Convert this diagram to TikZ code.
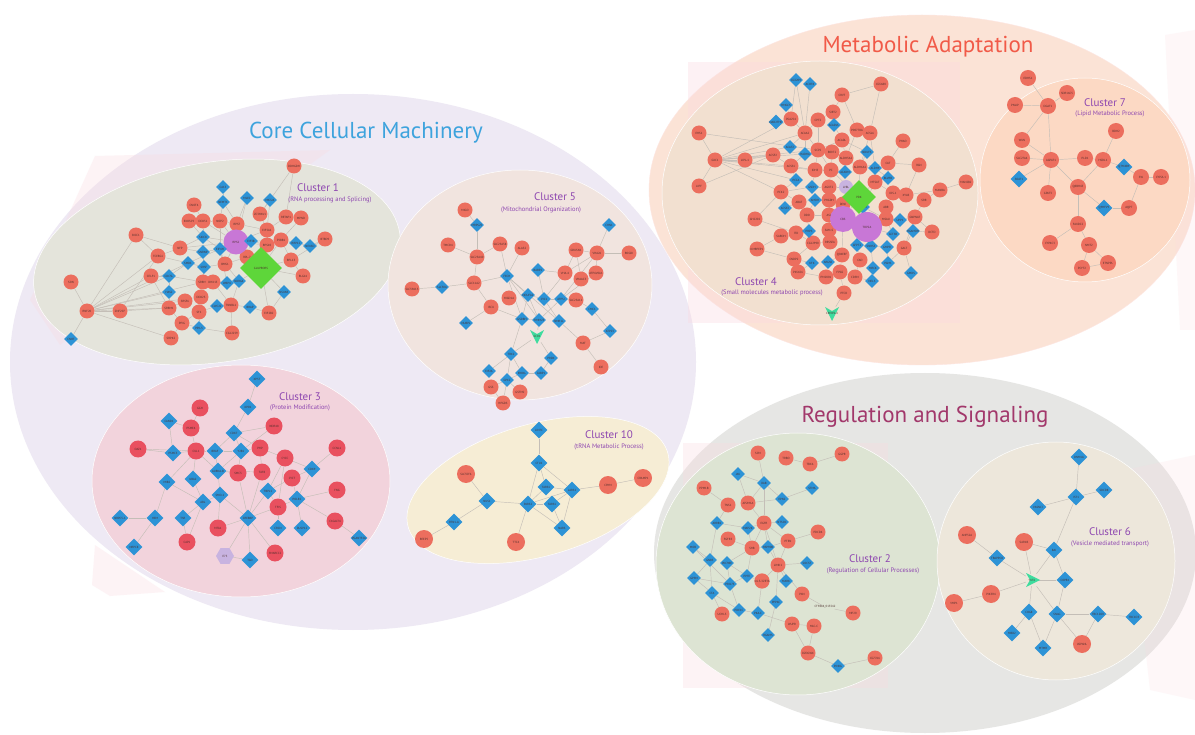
\documentclass[tikz,border=0pt]{standalone}
\usepackage{fontspec}
\setmainfont{PT Sans}
\usetikzlibrary{shapes.geometric}
\definecolor{nred}{HTML}{EC6E5E}
\definecolor{npink}{HTML}{E9505F}
\definecolor{nblue}{HTML}{2D93D6}
\definecolor{ngreen}{HTML}{5ED63A}
\definecolor{npurp}{HTML}{C877D6}
\definecolor{nlav}{HTML}{C8B3E0}
\definecolor{nteal}{HTML}{3EDC9E}
\definecolor{coref}{HTML}{EEE9F4}
\definecolor{metaf}{HTML}{FBE3D6}
\definecolor{regf}{HTML}{E6E6E4}
\definecolor{c1f}{HTML}{E4E4DB}
\definecolor{c5f}{HTML}{F1E4DF}
\definecolor{c3f}{HTML}{F2D3DC}
\definecolor{c10f}{HTML}{F6EDD5}
\definecolor{c4f}{HTML}{F2E0D0}
\definecolor{c7f}{HTML}{FCD9C4}
\definecolor{c2f}{HTML}{DDE4D3}
\definecolor{c6f}{HTML}{EDE7DB}
\definecolor{tblue}{HTML}{3DA3DD}
\definecolor{tred}{HTML}{F15A48}
\definecolor{tmaroon}{HTML}{A2386B}
\definecolor{cpurp}{HTML}{8E47B0}
\definecolor{edgec}{HTML}{C4BEB7}
\definecolor{pinkbg}{HTML}{FBD9E0}
\definecolor{labc}{HTML}{4B2E2B}
\pgfdeclarelayer{back}
\pgfdeclarelayer{edges}
\pgfsetlayers{back,edges,main}
\tikzset{
  nlab/.style={font=\fontsize{3}{3.4}\selectfont, text=labc},
  rc/.style={circle, fill=nred, minimum size=15, inner sep=0, nlab},
  pc/.style={circle, fill=npink, minimum size=17, inner sep=0, nlab},
  bd/.style={diamond, fill=nblue, minimum size=14, inner sep=0, nlab},
  bigd/.style={bd, minimum size=17},
  edge/.style={draw=edgec, line width=0.45},
  ctitle/.style={text=cpurp, font=\fontsize{11}{12}\selectfont},
  csub/.style={text=cpurp, font=\fontsize{6.5}{7.5}\selectfont},
  btitle/.style={font=\fontsize{23}{26}\selectfont},
  region/.style={line width=0.5},
}
\newcommand\rcn[4]{\node[rc] (#1) at (#2,#3) {#4};}
\newcommand\pcn[4]{\node[pc] (#1) at (#2,#3) {#4};}
\newcommand\bdn[4]{\node[bd] (#1) at (#2,#3) {#4};}
\newcommand\bgn[4]{\node[bigd] (#1) at (#2,#3) {#4};}
\newcommand\tarw[5]{\fill[nteal, shift={(#2,#3)}, rotate=#5] (-7,-6) -- (0,-2) -- (7,-6) -- (0,8) -- cycle;
  \node[nlab, inner sep=0, minimum size=12] (#1) at (#2,#3) {#4};}
\newcommand\edgelist[1]{\begin{pgfonlayer}{edges}\foreach \ea/\eb in {#1}{\draw[edge] (\ea) -- (\eb);}\end{pgfonlayer}}
\begin{document}
\begin{tikzpicture}[x=1pt,y=-1pt]
\useasboundingbox (0,0) rectangle (1195,735);
\begin{pgfonlayer}{back}
\fill[white] (0,0) rectangle (1195,735);
% big groups
\fill[coref] (353,362) ellipse [x radius=343, y radius=268];
\fill[metaf, draw=metaf!85!red!40!white] (922,190) ellipse [x radius=273, y radius=175];
\fill[regf] (925,553) ellipse [x radius=271, y radius=180];
% faint pink background sheets
\fill[pinkbg, opacity=0.3] (95,156) -- (330,150) -- (60,345) -- (30,300) -- cycle;
\fill[pinkbg, opacity=0.3] (95,545) -- (165,592) -- (110,596) -- (92,585) -- cycle;
\fill[pinkbg, opacity=0.35] (688,62) rectangle (960,323);
\fill[pinkbg, opacity=0.3] (683,443) rectangle (888,688);
\fill[pinkbg, opacity=0.2] (1125,470) -- (1195,455) -- (1195,700) -- (1150,690) -- cycle;
\fill[pinkbg, opacity=0.2] (1165,35) -- (1195,30) -- (1195,330) -- (1180,330) -- cycle;
% clusters
\fill[c1f, draw=white, region, rotate around={9:(217,262)}] (217,262) ellipse [x radius=185, y radius=100];
\fill[c5f, draw=white, region] (520,285) ellipse [x radius=132, y radius=115];
\fill[c3f, draw=white, region] (241,481) ellipse [x radius=149, y radius=116];
\fill[c10f, draw=white, region, rotate around={16:(538,490)}] (538,490) ellipse [x radius=135, y radius=66];
\fill[c4f, draw=white, region] (820,193) ellipse [x radius=158, y radius=132];
\fill[c7f, draw=white, region] (1085,180) ellipse [x radius=105, y radius=102];
\fill[c2f, draw=white, region] (798,564) ellipse [x radius=142, y radius=131];
\fill[c6f, draw=white, region] (1056,561) ellipse [x radius=119, y radius=119];
\end{pgfonlayer}
% titles
\node[btitle, text=tblue] (tcore) at (366,133) {Core Cellular Machinery};
\node[btitle, text=tred] (tmeta) at (928,47) {Metabolic Adaptation};
\node[btitle, text=tmaroon] (treg) at (925,417) {Regulation and Signaling};
\node[ctitle] (l1) at (318,188) {Cluster 1};
\node[csub] (s1) at (330,200) {(RNA processing and Splicing)};
\node[ctitle] (l5) at (555,197) {Cluster 5};
\node[csub] (s5) at (541,210) {(Mitochondrial Organization)};
\node[ctitle] (l3) at (300,397) {Cluster 3};
\node[csub] (s3) at (300,408) {(Protein Modification)};
\node[ctitle] (l10) at (609,435) {Cluster 10};
\node[csub] (s10) at (609,447) {(tRNA Metabolic Process)};
\node[ctitle] (l4) at (756,282) {Cluster 4};
\node[csub] (s4) at (772,293) {(Small molecules metabolic process)};
\node[ctitle] (l7) at (1105,103) {Cluster 7};
\node[csub] (s7) at (1110,114) {(Lipid Metabolic Process)};
\node[ctitle] (l2) at (870,559) {Cluster 2};
\node[csub] (s2) at (873,571) {(Regulation of Cellular Processes)};
\node[ctitle] (l6) at (1110,532) {Cluster 6};
\node[csub] (s6) at (1110,544) {(Vesicle mediated transport)};

% ================= Cluster 1 =================
\rcn{a1}{294}{166}{DDHGDH}
\rcn{a2}{194}{205}{CNOT4}
\rcn{a3}{189}{221}{EXOSC9}
\rcn{a4}{203}{221}{DDX51}
\rcn{a5}{220}{221}{NOP2}
\rcn{a6}{237}{224}{RPS7}
\rcn{a7}{260}{214}{ZC3HAV1}
\rcn{a8}{286}{217}{RETAP1}
\rcn{a9}{301}{218}{MPND}
\rcn{a10}{267}{230}{EIF5A1}
\rcn{a11}{267}{245}{RPS10}
\rcn{a12}{281}{240}{P3BB1}
\rcn{a13}{325}{239}{BTBD9}
\rcn{a14}{291}{260}{RPL13}
\rcn{a15}{247}{257}{RPL-7}
\rcn{a16}{136}{235}{BICC1}
\rcn{a17}{180}{248}{NFP}
\rcn{a18}{158}{256}{TCERG1}
\rcn{a19}{151}{276}{CELF1}
\rcn{a20}{225}{264}{BMS1}
\rcn{a21}{203}{282}{SRRM2}
\rcn{a22}{213}{282}{DHX15}
\rcn{a23}{201}{297}{DDX23}
\rcn{a24}{185}{301}{SRSF6}
\rcn{a25}{169}{308}{SRRM1}
\rcn{a26}{199}{312}{SF1}
\rcn{a27}{231}{305}{TNNBL1}
\rcn{a28}{182}{323}{PPIG}
\rcn{a29}{171}{338}{SRPK2}
\rcn{a30}{232}{333}{CG12259}
\rcn{a31}{269}{313}{EIF2B2}
\rcn{a32}{303}{276}{RLG14}
\rcn{a33}{71}{282}{SON}
\rcn{a34}{87}{311}{RNF20}
\rcn{a35}{120}{311}{ZNF207}
\node[circle, fill=npurp, minimum size=25, inner sep=0, nlab] (rps2) at (236,242) {RPS2};
\node[diamond, fill=ngreen, minimum size=42, inner sep=0, nlab] (glu) at (261,268) {GLUPRORS};
\bdn{b1}{223}{187}{CA13}
\bdn{b2}{223}{202}{NEMT1}
\bdn{b3}{247}{198}{MLEC}
\bdn{b4}{270}{200}{MAT2A}
\bdn{b5}{203}{237}{SKIC8}
\bdn{b6}{251}{241}{EIF3B}
\bdn{b7}{220}{249}{EIF4H}
\bdn{b8}{203}{252}{SNRNP}
\bdn{b9}{188}{263}{SMD1}
\bdn{b10}{204}{267}{SRSF}
\bdn{b11}{296}{243}{RRP12}
\bdn{b12}{310}{246}{NEXSD}
\bdn{b13}{169}{276}{CDC5L}
\bdn{b14}{169}{292}{HAS2}
\bdn{b15}{227}{283}{WBP4}
\bdn{b16}{239}{281}{NDRG4}
\bdn{b17}{217}{306}{CWC22}
\bdn{b18}{250}{307}{BRAP}
\bdn{b19}{199}{328}{PPIL3}
\bdn{b20}{284}{292}{NSUN5}
\bdn{b21}{71}{339}{CNOT}
\edgelist{a33/a34,a34/b21,a34/a35,a34/a16,a34/a18,a34/a19,a34/b13,a34/b14,a34/a25,a34/a24,a34/a29,a34/a23,a34/a21,a34/b9,
a16/a18,a16/a17,a18/a17,a18/b9,a19/b13,a19/a25,a17/b8,a17/b5,a17/rps2,a2/a4,a3/a4,a3/b5,a4/a5,a4/rps2,a4/b5,a5/a6,a5/rps2,a5/b7,
a6/rps2,a6/b2,a6/a10,b1/b2,b2/a5,b3/a6,b3/rps2,b4/a7,b4/a10,a7/a10,a8/a9,a8/a10,a10/a11,a11/rps2,a12/a11,a12/b11,a9/a12,
b11/b12,b12/a13,a13/a14,a1/a8,a1/a7,rps2/b6,rps2/b7,rps2/a15,rps2/a20,rps2/b5,rps2/a10,rps2/a12,rps2/b9,b6/a11,b6/a15,
a15/glu,a15/a20,glu/a14,glu/a32,glu/b16,glu/b20,glu/a31,glu/a11,glu/a12,a14/a12,a32/a14,b15/a21,b15/b16,b7/b15,
a22/a21,a22/b15,a22/a27,a23/a24,a23/a26,a24/a25,a25/b14,b14/b13,b13/b9,b13/a21,b9/b10,b10/b8,b8/b7,b8/a21,b7/a20,
a20/b10,a20/b16,a26/b17,b17/a27,a27/b18,b18/a31,a26/b19,b19/a28,a28/a29,a28/a25,b19/a30,a30/a27,a26/a28,a21/b10,
b10/a23,b16/a27,b20/a31,a35/a25,a35/a18,b5/b7}

% ================= Cluster 5 =================
\rcn{f1}{465}{210}{MIGO}
\rcn{f2}{448}{245}{TMCO4}
\rcn{f3}{500}{244}{SLC25A38}
\rcn{f4}{522}{248}{ALAS2}
\rcn{f5}{477}{257}{SLC25A40}
\rcn{f6}{576}{250}{GRUSN1}
\rcn{f7}{597}{253}{VHA26}
\rcn{f8}{629}{253}{ROGDI}
\rcn{f9}{565}{273}{VHA-4}
\rcn{f10}{596}{273}{ATP6V0A1}
\rcn{f11}{581}{279}{VHAAC3}
\rcn{f12}{412}{289}{SLC39A13}
\rcn{f13}{474}{283}{SLC11A2}
\rcn{f14}{509}{298}{HIGD1A}
\rcn{f15}{576}{300}{SLC25A11}
\rcn{f16}{491}{307}{ISCU}
\rcn{f17}{583}{343}{MAT}
\rcn{f18}{601}{367}{IDE}
\rcn{f19}{491}{387}{GSS}
\rcn{f20}{520}{392}{GSTM2}
\rcn{f21}{503}{403}{HPGDS}
\bdn{g1}{477}{225}{MRPS25}
\bdn{g2}{609}{225}{CHN1}
\bdn{g3}{507}{276}{FECH}
\bdn{g4}{538}{270}{BABP2}
\bdn{g5}{442}{287}{SLC30A}
\bdn{g6}{528}{295}{NDUFA2}
\bdn{g7}{544}{299}{CYC1}
\bdn{g8}{561}{299}{ATP5J}
\bdn{g9}{592}{309}{CMC1}
\bdn{g10}{466}{323}{NUBPL}
\bdn{g11}{522}{319}{GSDBH}
\bdn{g12}{539}{320}{TIMM23}
\bdn{g13}{559}{321}{NMR1L}
\bdn{g14}{610}{331}{ATP23}
\bdn{g15}{511}{354}{TRX2}
\bdn{g16}{551}{358}{PRDX}
\bdn{g17}{489}{371}{EIF2A}
\bdn{g18}{507}{380}{GPX2}
\bdn{g19}{522}{373}{ERO1L}
\bdn{g20}{541}{373}{CABP1}
\tarw{sco}{537}{336}{SCO1}{0}
\edgelist{f1/g1,g1/f5,f2/f5,f5/f3,f5/f13,f3/g3,f4/g3,g5/f12,g5/f13,f13/g3,f13/f16,g3/g6,g3/g11,g3/g12,g3/g13,g4/g7,
f16/g10,f16/g11,g6/g7,g7/g8,g8/f15,g7/f9,g8/f10,f9/f6,f9/f7,f6/f7,f7/f8,f6/f11,f10/f7,g8/f7,g2/f7,g9/f15,g9/g14,
g14/f17,f17/f18,f17/g13,g13/g7,g11/g12,g12/sco,g11/g15,sco/g15,sco/g16,g15/g17,g15/g19,g16/g20,g19/g20,g18/g19,
g18/f19,g18/f20,g18/f21,f19/f21,g15/g18,g11/g6,g6/g12,g12/g8,f9/g4}

% ================= Cluster 3 =================
\pcn{h1}{200}{408}{GGH}
\pcn{h2}{191}{428}{PSME4}
\pcn{h3}{138}{449}{OAZ1}
\pcn{h4}{196}{451}{CUL1}
\pcn{h5}{274}{426}{WDR48}
\pcn{h6}{260}{448}{PHP}
\pcn{h7}{285}{458}{CYCC}
\pcn{h8}{337}{448}{CCNL1}
\pcn{h9}{238}{473}{SMC3}
\pcn{h10}{262}{472}{TAF8}
\pcn{h11}{292}{478}{CYCT}
\pcn{h12}{337}{490}{FNG}
\pcn{h13}{278}{507}{TFIS}
\pcn{h14}{335}{521}{C1GALT4}
\pcn{h15}{218}{528}{MTA1}
\pcn{h16}{187}{542}{CAP1}
\pcn{h17}{275}{553}{SMARCC2}
\node[regular polygon, regular polygon sides=6, fill=nlav, minimum size=18, inner sep=0, nlab] (e75) at (225,556) {E75};
\bgn{i1}{257}{379}{XP5T}
\bgn{i2}{248}{407}{XPO1}
\bgn{i3}{169}{421}{CAND1}
\bgn{i4}{234}{433}{CDK7}
\bgn{i5}{173}{453}{PSMC5}
\bgn{i6}{215}{451}{BRAF}
\bgn{i7}{241}{451}{Y2B1}
\bgn{i8}{218}{471}{AURKA-B}
\bgn{i9}{312}{469}{CDK9}
\bgn{i10}{167}{482}{MIB2}
\bgn{i11}{193}{479}{UBA2}
\bgn{i12}{220}{495}{SMO-1}
\bgn{i13}{268}{491}{TBPL1}
\bgn{i14}{297}{499}{POLR2}
\bgn{i15}{203}{502}{ABL}
\bgn{i16}{155}{518}{HEM}
\bgn{i17}{183}{518}{TSR}
\bgn{i18}{248}{518}{CREBBP}
\bgn{i19}{278}{528}{CRCN}
\bgn{i20}{302}{528}{DUSP12}
\bgn{i21}{120}{518}{NRPC5-1}
\bgn{i22}{134}{547}{NRPC8}
\bgn{i23}{250}{560}{TGO}
\bgn{i24}{359}{538}{PGANT35A}
\edgelist{i1/i2,i2/i4,i4/h6,i4/i6,i4/i7,i4/h5,i3/h2,i3/i5,h1/h2,h2/h4,h3/i5,i5/h4,h4/i6,h4/i11,h4/i10,h4/i8,i6/i8,i6/i7,
i7/h6,i7/i8,h6/h10,h6/h7,h5/i7,h7/i13,h7/h13,h11/i14,h11/i13,i9/h8,i9/i14,i9/h7,i9/h11,h12/i14,i14/h13,i14/i20,i14/h14,
h14/i24,i13/h13,i13/i18,h13/i19,h13/i18,i8/h9,i8/i12,i12/i15,i12/h15,i12/i18,i11/i15,i10/i15,i15/i17,i15/h16,i17/h16,
i16/i21,i16/i22,i16/i10,i18/h17,i18/e75,i18/i23,i18/h15,h9/i18,h10/i18,i8/h10,h3/h4,i23/e75,i7/h9}

% ================= Cluster 10 =================
\node[rc, minimum size=18] (j1) at (466,474) {SLC35F6};
\node[rc, minimum size=18] (j2) at (608,485) {CRYM};
\node[rc, minimum size=18] (j3) at (643,478) {CRAMP1};
\node[rc, minimum size=18] (j4) at (424,539) {REEP5};
\node[rc, minimum size=18] (j5) at (516,542) {TTC4};
\bgn{k1}{539}{430}{LIN7C}
\bgn{k2}{539}{463}{CTU1}
\bgn{k3}{546}{487}{TARS1}
\bgn{k4}{572}{490}{LARS1}
\bgn{k5}{487}{501}{NUS1}
\bgn{k6}{528}{504}{PARS2}
\bgn{k7}{552}{504}{TARS1}
\bgn{k8}{454}{522}{RTN1-A}
\bgn{k9}{562}{528}{NARS}
\edgelist{k1/k2,k2/k3,k2/k6,k2/k4,k3/k4,k3/k6,k4/k7,k4/k9,k4/j2,j2/j3,k6/k7,k6/k9,k6/k5,k6/k4,k6/j5,k5/j1,k5/k8,k8/j4,k7/k9}

% ================= Cluster 4 =================
\rcn{m1}{699}{133}{EHS1}
\rcn{m2}{715}{160}{GXC1}
\rcn{m3}{745}{160}{LIPL-1}
\rcn{m4}{773}{155}{ACSF2}
\rcn{m5}{791}{166}{ACSS1}
\rcn{m6}{791}{119}{PG4254}
\rcn{m7}{805}{133}{ACAA2}
\rcn{m8}{818}{120}{CPT2}
\rcn{m9}{818}{150}{SCP2}
\rcn{m10}{842}{95}{CRVT}
\rcn{m11}{833}{112}{SIRT2}
\rcn{m12}{881}{84}{CG5680}
\rcn{m13}{857}{130}{P00778A}
\rcn{m14}{870}{133}{ACSL6}
\rcn{m15}{842}{140}{ACADL}
\rcn{m16}{903}{141}{PHAO}
\rcn{m17}{832}{152}{B0072}
\rcn{m18}{846}{158}{ALDH3A2}
\rcn{m19}{815}{170}{IDH3}
\rcn{m20}{831}{170}{PC}
\rcn{m21}{860}{167}{ALDH6A1}
\rcn{m22}{888}{163}{CAT}
\rcn{m23}{919}{165}{RGN}
\rcn{m24}{699}{186}{LIPF}
\rcn{m25}{781}{192}{PCK2}
\rcn{m26}{829}{187}{AGXT2}
\rcn{m27}{875}{182}{MTSAT}
\rcn{m28}{893}{193}{IDS-1}
\rcn{m29}{906}{195}{XYLB}
\rcn{m30}{940}{190}{MANBA}
\rcn{m31}{966}{182}{MAN2B2}
\rcn{m32}{799}{202}{ABAT}
\rcn{m33}{829}{200}{PHGDH}
\rcn{m57}{843}{204}{DENI}
\rcn{m34}{886}{207}{ABR}
\rcn{m35}{924}{200}{SRR}
\rcn{m36}{807}{215}{DDO}
\rcn{m37}{829}{215}{ASL}
\rcn{m38}{886}{219}{MSAU}
\rcn{m39}{915}{217}{GNPNAT}
\rcn{m40}{755}{219}{GH2202}
\rcn{m41}{796}{233}{ITD}
\rcn{m42}{829}{230}{SAM-S}
\rcn{m43}{932}{232}{DCTD}
\rcn{m44}{781}{236}{SARDH}
\rcn{m45}{813}{243}{CG12990}
\rcn{m46}{830}{242}{RESSEA}
\rcn{m47}{842}{255}{Q04EEF}
\rcn{m48}{904}{248}{GALT}
\rcn{m49}{757}{249}{KMRPEP1}
\rcn{m50}{794}{259}{CNDP2}
\rcn{m51}{798}{272}{P65656}
\rcn{m52}{826}{277}{PM2001}
\rcn{m53}{840}{272}{FPGS}
\rcn{m54}{855}{277}{CDSM}
\rcn{m55}{844}{293}{PTCD}
\rcn{m56}{860}{260}{CAD}
\bdn{n1}{796}{80}{CG3209}
\bdn{n2}{810}{84}{ACOT8}
\bdn{n3}{786}{105}{HMGCS}
\bdn{n4}{776}{122}{NAD2THE}
\bdn{n5}{834}{125}{ACADVL}
\bdn{n6}{790}{147}{ACAT2}
\bdn{n7}{805}{154}{HADHA}
\bdn{n8}{867}{152}{NDUFS}
\bdn{n9}{845}{172}{ACADM}
\bdn{n10}{875}{168}{ALDH9}
\bdn{n11}{796}{180}{PCCA}
\bdn{n12}{812}{187}{GSDH}
\bdn{n13}{888}{178}{BLVRB}
\bdn{n14}{815}{200}{AMDH}
\bdn{n15}{785}{208}{ACSS3}
\bdn{n16}{863}{207}{MIT-TR}
\bdn{n17}{900}{220}{UPP1}
\bdn{n18}{809}{231}{PRPS}
\bdn{n19}{893}{234}{GCTSB}
\bdn{n20}{913}{231}{HGAMDH}
\bdn{n21}{857}{245}{GFPT2}
\bdn{n22}{871}{246}{SNRS3}
\bdn{n23}{887}{247}{GMPR}
\bdn{n25}{812}{263}{KFK}
\bdn{n26}{828}{262}{ARGS0}
\bdn{n27}{888}{263}{PGM1}
\bdn{n28}{911}{273}{GMDS}
\bdn{n29}{873}{268}{MRCK}
\bdn{n30}{872}{281}{NEL3}
\node[circle, fill=nlav, minimum size=14, inner sep=0, nlab] (lvbl) at (846,187) {LVBL};
\node[diamond, fill=ngreen, minimum size=34, inner sep=0, nlab] (pdk) at (859,197) {PDK};
\node[circle, fill=npurp, minimum size=26, inner sep=0, nlab] (cbs) at (843,219) {CBS};
\node[circle, fill=npurp, minimum size=30, inner sep=0, nlab] (top2a) at (867,227) {TOP2A};
\tarw{creb}{832}{313}{CREB3L4}{0}
\edgelist{m2/m1,m2/m24,m2/m3,m2/m4,m2/m7,m2/n6,m2/m5,m2/m9,m2/n7,m2/n11,m2/m19,m2/m25,m2/m6,
n1/m7,n2/m7,n1/m6,n3/m6,n4/m6,m6/m7,m7/m8,m8/m11,m11/m10,m10/m13,m12/m10,m12/m14,m13/m14,m11/n5,n5/m15,m7/n6,m7/n7,
m7/m9,m8/m9,m9/m17,m9/m19,m17/m18,m15/m17,m15/m18,m18/m21,m21/m22,m22/m16,m22/m23,m22/n13,m23/m29,m13/m18,m14/m21,
n8/m21,n8/m15,m5/n7,m5/m19,m5/n11,m4/m5,m3/m4,n11/m25,n12/m26,m26/m33,m26/lvbl,lvbl/pdk,pdk/m27,pdk/n16,pdk/cbs,
pdk/m21,pdk/m20,m27/m28,m28/m29,m29/m30,m30/m31,m30/m35,m28/m34,m34/m38,m38/n17,n17/m39,m39/m43,m35/m39,n20/m43,
n20/m48,m38/n19,top2a/n19,top2a/n21,top2a/n22,top2a/m38,cbs/m37,cbs/m42,cbs/m47,m33/m37,m36/n14,n14/m32,m32/n15,
m25/m32,m37/m42,m42/m46,m46/m45,m45/m41,m41/m44,m41/n18,n18/m36,m40/m41,m44/m49,m45/m50,m50/n25,n25/m51,n26/m52,
n26/m47,m47/m53,m53/m55,m55/creb,m52/m53,m53/m54,m54/m56,m56/n21,n22/n23,n23/n27,n27/m48,n28/m48,n29/n30,n29/n22,
n30/m54,m19/m20,m20/m26,m20/m17,n9/m20,n9/m18,n10/n13,n10/m21,n12/m25,m36/m37,n16/m38,n16/m27,m57/m33,m57/cbs,
m9/m20,m19/n12,m33/n14,m32/m36,m17/m21,m14/n10,m15/m9,m40/m25,m49/m50,m51/m52,n21/n22,m48/m39,m24/m4,m1/m9}

% ================= Cluster 7 =================
\node[rc, minimum size=16] (p0) at (1028,78) {EDHS1};
\node[rc, minimum size=16] (p1) at (1067,93) {SDR16C5};
\node[rc, minimum size=16] (p2) at (1048,106) {DGAT1};
\node[rc, minimum size=16] (p3) at (1015,105) {PNLIP};
\node[rc, minimum size=16] (p4) at (1022,140) {WUN};
\node[rc, minimum size=16] (p5) at (1022,158) {SLC27A4};
\node[rc, minimum size=16] (p6) at (1051,160) {AGPAT1};
\node[rc, minimum size=16] (p7) at (1085,158) {PLD1};
\node[rc, minimum size=16] (p8) at (1103,160) {HSDL1};
\node[rc, minimum size=16] (p9) at (1116,131) {BDH2};
\node[rc, minimum size=16] (p10) at (1141,177) {SW};
\node[rc, minimum size=16] (p11) at (1161,177) {CYP2L1};
\node[rc, minimum size=16] (p12) at (1048,193) {GPAT3};
\node[rc, minimum size=16] (p13) at (1078,187) {Q8BH43};
\node[rc, minimum size=16] (p14) at (1129,208) {AQP7};
\node[rc, minimum size=16] (p15) at (1078,224) {FAXDC2};
\node[rc, minimum size=16] (p16) at (1050,243) {CYP4C3};
\node[rc, minimum size=16] (p17) at (1089,245) {NMT2};
\node[rc, minimum size=16] (p18) at (1082,268) {PCYT2};
\node[rc, minimum size=16] (p19) at (1108,263) {ETNPPL};
\bgn{q1}{1019}{179}{SOAT1}
\bgn{q2}{1124}{167}{Q7M4B9}
\bgn{q3}{1104}{208}{Q9HFV9}
\edgelist{p0/p2,p1/p2,p3/p2,p2/p4,p2/p6,p4/p6,p5/p6,q1/p6,p6/p7,p6/p12,p6/p13,p7/p8,p8/p9,p8/q2,q2/p10,p10/p11,p10/p14,
p8/p13,p13/q3,q3/p14,p13/p15,p15/p16,p15/p17,p17/p18,p17/p19,p18/p19}

% ================= Cluster 2 =================
\rcn{r1}{758}{453}{SCM}
\rcn{r2}{786}{458}{TRBO}
\rcn{r3}{810}{464}{TBX6}
\rcn{r4}{842}{454}{GGPR}
\rcn{r5}{704}{488}{PPM1B}
\rcn{r6}{728}{505}{TNS1}
\rcn{r7}{748}{503}{AP2M1A}
\rcn{r8}{764}{523}{EGFR}
\rcn{r9}{818}{532}{PDCD4}
\rcn{r10}{728}{539}{FGFR3}
\rcn{r11}{752}{548}{SHB}
\rcn{r12}{788}{541}{PTEN}
\rcn{r13}{778}{565}{LIMK1}
\rcn{r14}{762}{581}{14-3-3ZETA}
\rcn{r15}{802}{594}{PXN}
\rcn{r16}{722}{614}{UCHL3}
\rcn{r17}{792}{624}{WUPR}
\rcn{r18}{814}{626}{MLC-C}
\rcn{r19}{853}{613}{MP20}
\rcn{r20}{808}{653}{DZOGWX}
\rcn{r21}{875}{658}{CG7766}
\bdn{t1x}{738}{474}{JAK}
\bdn{t2x}{764}{483}{DAB}
\bdn{t3x}{782}{499}{EPN2}
\bdn{t4x}{812}{488}{STMA}
\bdn{t5x}{717}{523}{ARRB1}
\bdn{t6x}{748}{528}{MAP2K}
\bdn{t7x}{782}{522}{NTSOC}
\bdn{t8x}{693}{547}{MOB}
\bdn{t9x}{768}{547}{HSP90B}
\bdn{t10x}{710}{560}{GNB5}
\bdn{t11x}{727}{563}{PKC98E}
\bdn{t12x}{807}{563}{SOCS7}
\bdn{t13x}{694}{578}{GPSM}
\bdn{t14x}{747}{576}{PPTE}
\bdn{t15x}{786}{581}{MARK}
\bdn{t16x}{712}{593}{CTA}
\bdn{t17x}{730}{584}{PRI175}
\bdn{t18x}{776}{602}{PPP6C}
\bdn{t19x}{739}{610}{PDE1C}
\bdn{t20x}{758}{613}{PKA-C}
\bdn{t21x}{768}{635}{RGAMS}
\bdn{t22x}{838}{666}{PINKG}
\node[nlab, inner sep=0.5] (ct98) at (825,607) {CT9884\_013542};
\edgelist{r1/t2x,r2/r3,r3/r4,t1x/t2x,t1x/r7,t2x/r7,t2x/t3x,t2x/r8,t3x/t4x,t3x/r7,r5/r6,r6/t5x,t5x/t10x,r7/r8,r8/t6x,
r8/t7x,r8/r11,r8/t9x,r8/r12,r8/r13,r12/r9,r12/r13,r10/r11,r11/t9x,r11/t11x,r11/t14x,t9x/r13,t9x/r12,r13/t15x,r13/t12x,
r13/r14,r13/r15,t8x/t10x,t8x/t17x,t10x/t16x,t10x/t13x,t11x/t17x,t13x/t17x,t13x/t16x,t16x/r16,t16x/t19x,t17x/t19x,
t14x/r14,t14x/t17x,r14/t20x,t19x/t20x,t20x/r17,t18x/t21x,t18x/r13,r17/r18,r18/r20,r20/t22x,t22x/r21,r17/r20,t14x/t11x,
r15/ct98,ct98/r19,t5x/t6x,t6x/r11}

% ================= Cluster 6 =================
\node[rc, minimum size=18] (v1) at (967,535) {ANP32A};
\node[rc, minimum size=18] (v2) at (1024,542) {SAR1B};
\node[rc, minimum size=18] (v3) at (991,594) {PIK3R4};
\node[rc, minimum size=18] (v4) at (954,603) {VMP1};
\node[rc, minimum size=18] (v5) at (1082,644) {USP6NL};
\bgn{w1}{1079}{457}{DNM1A}
\bgn{w2}{1076}{497}{IST1}
\bgn{w3}{1104}{490}{SDCD8}
\bgn{w4}{1038}{507}{VASNCI}
\bgn{w5}{1054}{550}{BAI}
\bgn{w6}{997}{558}{TRAPPC8}
\bgn{w7}{1065}{580}{COPB1}
\bgn{w8}{1029}{612}{COG8}
\bgn{w9}{1057}{614}{SNAG}
\bgn{w10}{1098}{614}{TBC1D20}
\bgn{w11}{1134}{617}{TBC1D3}
\bgn{w12}{1012}{633}{MBD2}
\bgn{w13}{1043}{648}{MTMR}
\tarw{ykt}{1032}{580}{YKT6}{90}
\edgelist{w1/w2,w2/w3,w2/w4,w2/w5,v1/w6,w6/ykt,v2/w5,v2/ykt,w5/ykt,w5/w7,w7/ykt,w7/w9,ykt/v3,v3/v4,ykt/w8,ykt/w9,
w8/w12,w8/w13,w9/w13,w9/w10,w10/w11,w10/v5,w9/v5}
\end{tikzpicture}
\end{document}
